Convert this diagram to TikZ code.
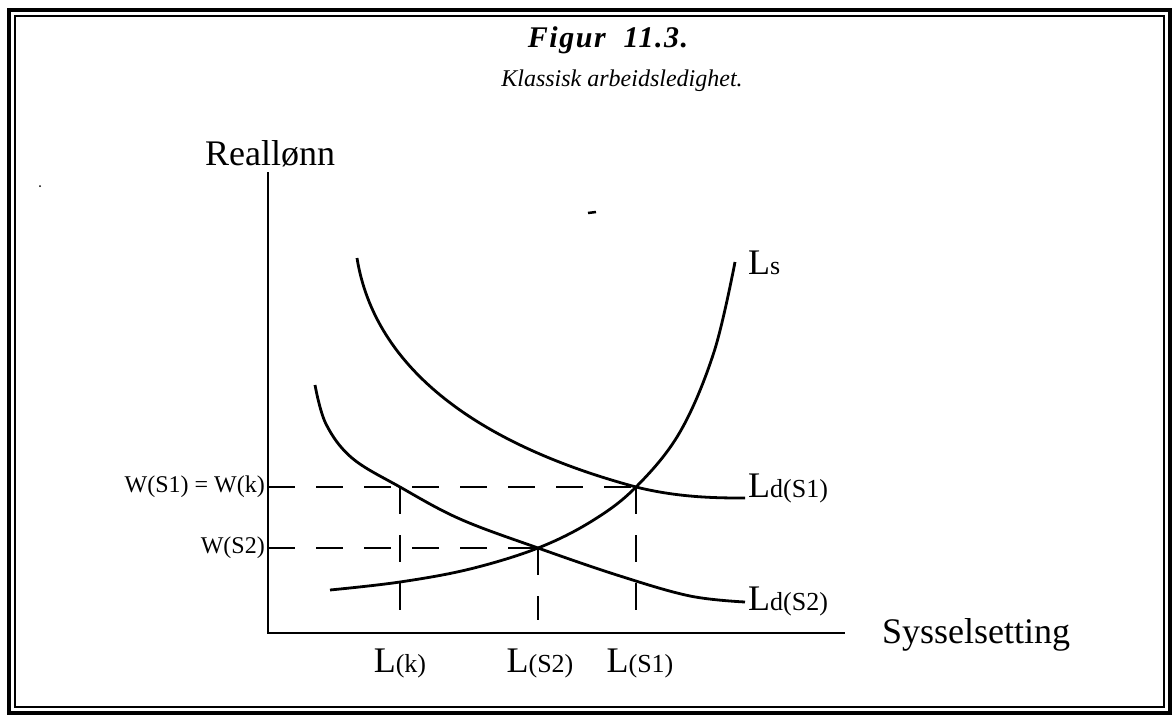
\documentclass[tikz,border=0pt]{standalone}
\usepackage{fontspec}
\setmainfont{Liberation Serif}
\newfontfamily\ttlfont[LetterSpace=5]{Liberation Serif}
\newcommand{\smallpart}[1]{{\fontsize{26}{28}\selectfont #1}}
\begin{document}
\begin{tikzpicture}[x=1pt,y=-1pt,line cap=butt,
  frameout/.style={line width=4.5pt},
  framein/.style={line width=1.6pt},
  axisline/.style={line width=2.8pt},
  curveline/.style={line width=2.8pt},
  guide/.style={line width=2.5pt,dash pattern=on 27pt off 21pt},
  bigtext/.style={font=\fontsize{36}{40}\selectfont,inner sep=0pt},
  wtext/.style={font=\fontsize{24}{27}\selectfont,inner sep=0pt},
  speck/.style={line width=2.5pt}]
\useasboundingbox (0,0) rectangle (1175,717);
% frame
\draw[frameout] (9,10) rectangle (1170,713);
\draw[framein] (15,16) rectangle (1164,707);
% titles
\node[inner sep=0pt,anchor=base] (title) at (608,48) {\ttlfont\fontsize{30}{34}\selectfont\bfseries\itshape Figur\ \ 11.3.};
\node[inner sep=0pt,anchor=base] (subtitle) at (622,86) {\fontsize{24}{27}\selectfont\itshape Klassisk arbeidsledighet.};
% axes
\coordinate (O) at (268,633);
\coordinate (ytop) at (268,172);
\coordinate (xend) at (845,633);
\draw[axisline] (ytop) -- (O) -- (xend);
\node[bigtext,anchor=base west] (ylab) at (205,165) {Reallønn};
\node[bigtext,anchor=base west] (xlab) at (882,643) {Sysselsetting};
% key points
\coordinate (E1) at (636,487);
\coordinate (E2) at (538,548);
\coordinate (K) at (400,487);
\coordinate (W1) at (268,487);
\coordinate (W2) at (268,548);
\coordinate (Kb) at (400,610);
\coordinate (E2b) at (538,620);
\coordinate (E1b) at (636,620);
\coordinate (D1s) at (357,258);
\coordinate (D1e) at (745,498);
% guides
\draw[guide] (W1) -- (E1);
\draw[guide] (W2) -- (E2);
\draw[guide] (K) -- (Kb);
\draw[guide] (E2) -- (E2b);
\draw[guide] (E1) -- (E1b);
% curves
\draw[curveline] plot[smooth,tension=0.6] coordinates {(330,590) (400,582) (470,569) (538,548) (592,521) (636,487) (680,432) (714,352) (735,262)};
\draw[curveline] (D1s) .. controls (375,370) and (480,445) .. (E1) .. controls (680,498) and (720,498) .. (D1e);
\draw[curveline] plot[smooth,tension=0.6] coordinates {(315,385) (326,424) (352,458) (400,487) (460,519) (538,548) (620,576) (690,596) (745,602)};
% curve labels
\node[bigtext,anchor=base west] (ls) at (748,274) {L\smallpart{s}};
\node[bigtext,anchor=base west] (ld1) at (748,497) {L\smallpart{d(S1)}};
\node[bigtext,anchor=base west] (ld2) at (748,610) {L\smallpart{d(S2)}};
% axis labels
\node[wtext,anchor=east] (w1) at (265,487) {W(S1) = W(k)};
\node[wtext,anchor=east] (w2) at (265,548) {W(S2)};
\node[bigtext,anchor=base] (lk) at (400,672) {L\smallpart{(k)}};
\node[bigtext,anchor=base] (ls2) at (540,672) {L\smallpart{(S2)}};
\node[bigtext,anchor=base] (ls1) at (640,672) {L\smallpart{(S1)}};
% scan specks
\draw[speck] (588,213) -- (596,212);
\fill (40,186) circle (1pt);
\end{tikzpicture}
\end{document}
